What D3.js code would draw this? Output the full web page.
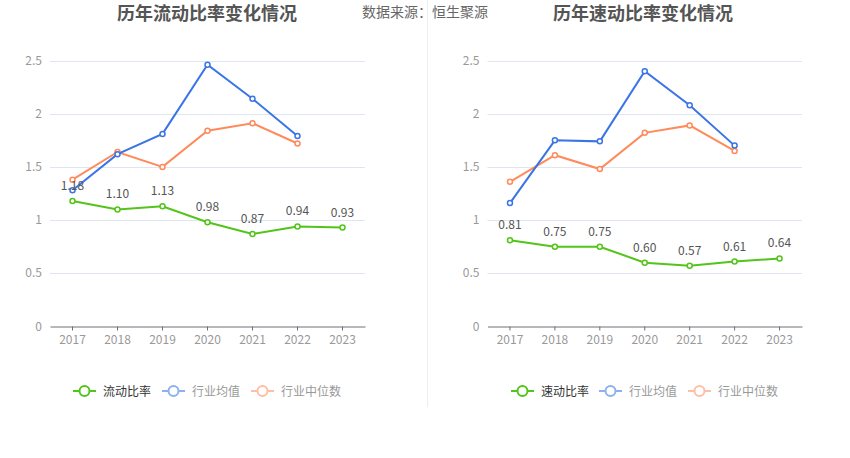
<!DOCTYPE html>
<html>
<head>
<meta charset="utf-8">
<script src="https://cdn.jsdelivr.net/npm/d3@7"></script>
<style>
  body { margin: 0; background: #fff; }
  svg { display: block; font-family: "Microsoft YaHei", "Noto Sans CJK SC", sans-serif; }
</style>
</head>
<body>
<svg id="chart" width="850" height="458"></svg>
<script>
const years = ["2017", "2018", "2019", "2020", "2021", "2022", "2023"]
const yTicks = [0, 0.5, 1, 1.5, 2, 2.5]

// 流动比率
const currentRatio = [1.18, 1.10, 1.13, 0.98, 0.87, 0.94, 0.93]
const currentAvg = [1.28, 1.62, 1.81, 2.46, 2.14, 1.79]
const currentMedian = [1.38, 1.64, 1.50, 1.84, 1.91, 1.72]

// 速动比率
const quickRatio = [0.81, 0.75, 0.75, 0.60, 0.57, 0.61, 0.64]
const quickAvg = [1.16, 1.75, 1.74, 2.40, 2.08, 1.70]
const quickMedian = [1.36, 1.61, 1.48, 1.82, 1.89, 1.65]

const GREEN = "#52c41a", BLUE = "#3a75e6", ORANGE = "#ff8a5c"
const LEG_BLUE = "#8cb0f0", LEG_ORANGE = "#ffbfa5"

const svg = d3.select("#chart")

const drawPanel = (opts) => {
    const g = svg.append("g")
    let x = d3.scaleBand().domain(years).range([opts.x0, opts.x1])
    let y = d3.scaleLinear().domain([0, 2.5]).range([326.5, 60.5])
    let cx = d => x(d) + x.bandwidth() / 2

    // title
    g.append("text").attr("x", opts.titleX).attr("y", 20)
        .attr("text-anchor", "middle").attr("font-size", 18).attr("font-weight", "bold")
        .attr("fill", "#555").text(opts.title)

    // grid
    g.selectAll(".grid").data(yTicks.filter(t => t > 0)).enter().append("line")
        .attr("x1", opts.x0).attr("x2", opts.x1)
        .attr("y1", d => Math.round(y(d)) + 0.5).attr("y2", d => Math.round(y(d)) + 0.5)
        .attr("stroke", "#e0e6f1").attr("stroke-width", 1)

    g.selectAll(".ylab").data(yTicks).enter().append("text")
        .attr("x", opts.x0 - 8).attr("y", d => y(d) + 4)
        .attr("text-anchor", "end").attr("font-size", 12).attr("fill", "#999")
        .text(d => d)

    // x axis
    let ax = g.append("g").attr("transform", "translate(0,326.5)")
        .call(d3.axisBottom(x).tickSize(4).tickSizeOuter(0))
    ax.select(".domain").attr("stroke", "#6e7079")
    ax.selectAll(".tick line").attr("stroke", "#6e7079")
    ax.selectAll(".tick text").attr("fill", "#999").attr("font-size", 12).attr("dy", "0.9em")
        .attr("font-family", "\"Microsoft YaHei\", \"Noto Sans CJK SC\", sans-serif")

    const series = [
        {data: opts.median, color: ORANGE},
        {data: opts.avg, color: BLUE},
        {data: opts.main, color: GREEN}
    ]
    series.forEach(s => {
        let pts = s.data.map((v, i) => ({year: years[i], v}))
        g.append("path").datum(pts)
            .attr("fill", "none").attr("stroke", s.color).attr("stroke-width", 2)
            .attr("d", d3.line().x(d => cx(d.year)).y(d => y(d.v)))
        g.selectAll(null).data(pts).enter().append("circle")
            .attr("cx", d => cx(d.year)).attr("cy", d => y(d.v)).attr("r", 2.5)
            .attr("fill", "#fff").attr("stroke", s.color).attr("stroke-width", 1.5)
    })

    g.selectAll(".vlab").data(opts.main).enter().append("text")
        .attr("x", (d, i) => cx(years[i])).attr("y", d => y(d) - 11)
        .attr("text-anchor", "middle").attr("font-size", 12).attr("fill", "#555")
        .text(d => d.toFixed(2))

    // legend
    const legend = [
        {name: opts.name, color: GREEN, text: "#333", x: opts.legX[0]},
        {name: "行业均值", color: LEG_BLUE, text: "#999", x: opts.legX[1]},
        {name: "行业中位数", color: LEG_ORANGE, text: "#999", x: opts.legX[2]}
    ]
    legend.forEach(l => {
        let lg = g.append("g").attr("transform", "translate(" + l.x + ",391)")
        lg.append("line").attr("x1", 0).attr("x2", 23).attr("stroke", l.color).attr("stroke-width", 2)
        lg.append("circle").attr("cx", 11.5).attr("r", 5).attr("fill", "#fff")
            .attr("stroke", l.color).attr("stroke-width", 2)
        lg.append("text").attr("x", 30).attr("y", 4.5).attr("font-size", 12)
            .attr("fill", l.text).text(l.name)
    })
}

drawPanel({x0: 50, x1: 365, titleX: 207, title: "历年流动比率变化情况", name: "流动比率",
    main: currentRatio, avg: currentAvg, median: currentMedian, legX: [73, 162, 251]})
drawPanel({x0: 487.5, x1: 802, titleX: 643, title: "历年速动比率变化情况", name: "速动比率",
    main: quickRatio, avg: quickAvg, median: quickMedian, legX: [511, 599, 688]})

// divider and source
svg.append("line").attr("x1", 427.5).attr("x2", 427.5).attr("y1", 0).attr("y2", 407)
    .attr("stroke", "#eee").attr("stroke-width", 1)
svg.append("text").attr("x", 362).attr("y", 17).attr("font-size", 14).attr("fill", "#666")
    .text("数据来源：恒生聚源")
</script>
</body>
</html>
